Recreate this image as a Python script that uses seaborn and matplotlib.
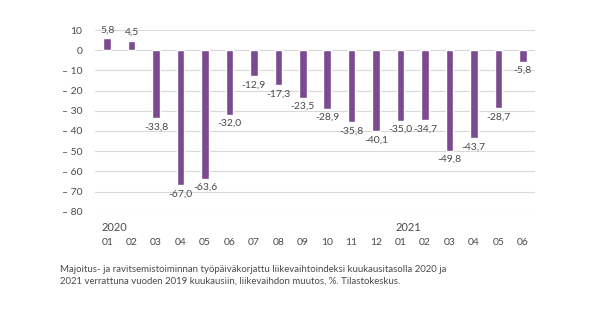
import matplotlib
matplotlib.use("Agg")
import matplotlib.pyplot as plt
import matplotlib.transforms as mtransforms
import seaborn as sns
import pandas as pd

months = ["01", "02", "03", "04", "05", "06", "07", "08", "09", "10", "11", "12",
          "01", "02", "03", "04", "05", "06"]
years = ["2020"] * 12 + ["2021"] * 6
values = [5.8, 4.5, -33.8, -67.0, -63.6, -32.0, -12.9, -17.3, -23.5, -28.9, -35.8, -40.1,
          -35.0, -34.7, -49.8, -43.7, -28.7, -5.8]
yticks = [10, 0, -10, -20, -30, -40, -50, -60, -70, -80]
caption = ("Majoitus- ja ravitsemistoiminnan työpäiväkorjattu liikevaihtoindeksi kuukausitasolla 2020 ja\n"
           "2021 verrattuna vuoden 2019 kuukausiin, liikevaihdon muutos, %. Tilastokeskus.")

sns.set_theme(style="white")
plt.rcParams['font.family'] = ['Lato', 'DejaVu Sans']

TEXT = "#4a4a4a"
BAR = "#7b4a91"

df = pd.DataFrame({"key": [f"{y}-{m}" for y, m in zip(years, months)],
                   "value": values})

fig = plt.figure(figsize=(6.0, 3.23), dpi=100)
ax = fig.add_axes([95 / 600, 1 - 211.7 / 323, 440 / 600, (211.7 - 30) / 323])

sns.barplot(data=df, x="key", y="value", color=BAR, width=0.31, ax=ax,
            saturation=1, order=list(df["key"]))

ax.set_ylim(-80, 10)
ax.set_xlim(-0.5, len(values) - 0.5)
ax.set_yticks(yticks)
ax.set_yticklabels([("– " + str(abs(t))) if t < 0 else str(t) for t in yticks])
ax.set_xticks(range(len(values)))
ax.set_xticklabels(months)
ax.tick_params(axis="y", length=0, pad=9, labelsize=7.5, labelcolor=TEXT)
ax.tick_params(axis="x", length=0, pad=19, labelsize=7.5, labelcolor=TEXT)
ax.set_xlabel("")
ax.set_ylabel("")
ax.grid(axis="y", color="#d9d9d9", linewidth=0.8)
ax.set_axisbelow(True)
for s in ax.spines.values():
    s.set_visible(False)

labels = [f"{v:.1f}".replace(".", ",") for v in values]
ax.bar_label(ax.containers[0], labels=labels, padding=3, fontsize=7.5, color=TEXT)

trans = mtransforms.blended_transform_factory(ax.transData, ax.transAxes)
for i, y in enumerate(years):
    if i == 0 or years[i - 1] != y:
        ax.text(i - 0.22, -0.085, y, transform=trans, ha="left", va="center",
                fontsize=8, color=TEXT)

fig.text(60 / 600, 1 - 265 / 323, caption, ha="left", va="top", fontsize=6.95,
         color=TEXT, linespacing=1.4)

fig.savefig("out.png", dpi=100)
